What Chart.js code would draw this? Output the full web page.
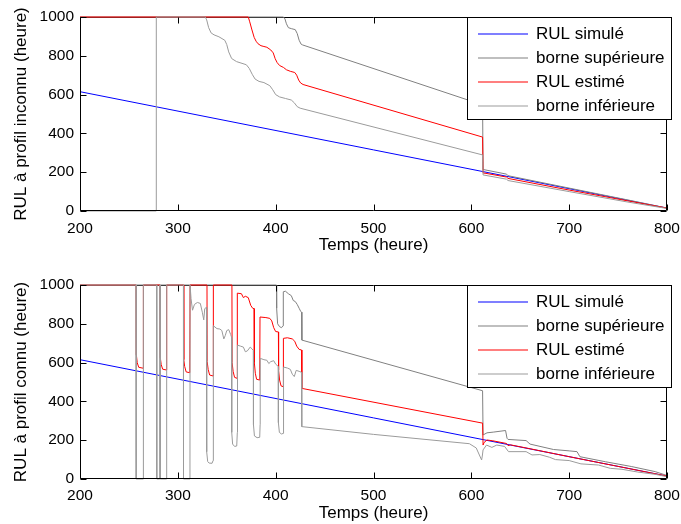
<!DOCTYPE html>
<html>
<head>
<meta charset="utf-8">
<script src="https://cdn.jsdelivr.net/npm/chart.js@4/dist/chart.umd.min.js"></script>
<style>
html,body{margin:0;padding:0;background:#fff;}
#wrap{position:relative;width:681px;height:524px;overflow:hidden;}
canvas{position:absolute;left:0;}
</style>
</head>
<body>
<div id="wrap">
<canvas id="c1" width="681" height="262" style="top:0px"></canvas>
<canvas id="c2" width="681" height="262" style="top:262px"></canvas>
</div>
<script>
// ---------- data (time in hours, RUL in hours) ----------
const seriesLabels = ['RUL simulé', 'borne supérieure', 'RUL estimé', 'borne inférieure'];
const xTickValues = [200, 300, 400, 500, 600, 700, 800];
const yTickValues = [0, 200, 400, 600, 800, 1000];

// Top chart: unknown profile
const topSimT = [200, 800];
const topSimV = [615, 15];

const topUpperT = [200, 408, 409.5, 411, 413, 416, 420, 422, 424, 426, 427.5, 611.5, 612, 636, 637.5, 700, 760, 800];
const topUpperV = [1000, 1000, 990, 965, 945, 940, 935, 915, 880, 860, 856, 547, 214, 190, 182, 118, 57, 15];

const topEstT = [200, 372, 373.5, 375.5, 378, 380, 382, 385, 388, 391, 395, 397.5, 399.5, 401.5, 404, 408, 411, 415, 419.5, 421.5, 423.5, 425.5, 428, 611.5, 612, 615, 636, 637.5, 700, 760, 800];
const topEstV = [1000, 1000, 975, 938, 895, 875, 862, 852, 848, 844, 830, 815, 785, 765, 750, 740, 728, 720, 714, 700, 675, 660, 652, 381, 196, 194, 175, 168, 108, 52, 15];

const topLowerT = [200, 277.8, 278, 328, 329.5, 331.5, 334, 337, 342, 348, 350, 352, 355, 360, 370, 373, 376, 379, 383, 388, 394, 397, 400, 404, 410, 416, 419, 422, 425, 611.5, 612, 636, 637.5, 700, 760, 800];
const topLowerV = [0, 0, 1000, 1000, 985, 945, 918, 908, 898, 880, 858, 820, 786, 770, 754, 735, 705, 680, 668, 662, 646, 625, 600, 588, 580, 572, 558, 538, 530, 289, 186, 164, 157, 100, 46, 13];

// Bottom chart: known profile
const botSimT = [200, 800];
const botSimV = [615, 15];

const botUpperT = [200, 400.8, 401, 402, 404, 406, 407.5, 407.8, 410, 413, 416, 418, 420, 422, 424, 425.5, 426.5, 426.8, 611.5, 612, 616, 623, 635, 636.5, 637.5, 656, 660, 684, 700, 708, 711, 737, 764, 788, 800];
const botUpperV = [1000, 1000, 880, 800, 785, 780, 790, 965, 968, 955, 945, 920, 915, 900, 880, 865, 860, 716, 455, 227, 238, 242, 250, 210, 204, 198, 180, 152, 145, 141, 115, 89, 64, 38, 18];

const botEstT = [200,
  257.4, 257.6, 258.5, 260, 264.5, 264.8,
  281.9, 282.1, 283, 284.5, 288.3, 288.6,
  305.9, 306.1, 307, 308.5, 312.2, 312.5,
  329.8, 330, 331, 332.5, 336, 336.3,
  355.3, 355.5, 356.5, 358, 360.5, 360.8,
  365, 367, 369, 372, 374.5, 376.5, 378,
  378.2, 379.2, 380.5, 383.7, 384,
  390, 394, 396, 398, 400, 402.8,
  403, 404, 405.5, 407.6, 407.9,
  412, 417, 419.5, 421.5, 424, 426.5,
  426.8, 611.5, 612, 613, 616, 622, 636, 637.5, 640, 660, 700, 760, 800];
const botEstV = [1000,
  1000, 640, 600, 576, 571, 1000,
  1000, 625, 590, 566, 562, 1000,
  1000, 615, 580, 552, 548, 1000,
  1000, 605, 565, 536, 531, 1000,
  1000, 600, 555, 524, 519, 958,
  955, 935, 942, 935, 895, 880, 878,
  600, 545, 514, 510, 835,
  832, 828, 815, 780, 760, 758,
  560, 510, 480, 476, 725,
  728, 722, 710, 685, 668, 665,
  467, 288, 175, 188, 201, 197, 183, 172, 176, 156, 115, 55, 15];

const botLowerT = [200,
  257.3, 257.4, 264.7, 264.8,
  278.4, 278.5, 281.5, 281.6, 281.9, 282, 288.5, 288.6,
  305.7, 305.8, 312.4, 312.5,
  313.5, 315, 317, 320, 323, 325, 326.5, 327.5, 329.3,
  329.5, 330.5, 332, 335, 336, 336.3,
  340, 343, 345, 347, 348.5, 350, 352, 354, 355,
  355.1, 356, 358, 360.2, 360.8, 361,
  364, 367, 369, 371, 374, 376, 377.2,
  377.3, 378.3, 381, 383.7, 384.1, 384.2,
  388, 391, 393, 395, 398, 400, 402.7,
  402.8, 403.8, 406, 407.7, 408, 408.1,
  412, 415, 417, 419, 421, 424, 426.5,
  426.7, 500, 598, 605, 610.5, 611.2, 612, 615.5, 621, 626, 634, 638, 656, 662, 670, 680, 686, 700, 712, 730, 742, 754, 770, 788, 800];
const botLowerV = [1000,
  1000, 0, 0, 1000,
  1000, 0, 0, 1000, 1000, 0, 0, 1000,
  1000, 0, 0, 1000,
  930, 870, 900, 910, 905, 860, 820, 878, 885,
  140, 90, 82, 81, 95, 790,
  775, 773, 765, 722, 740, 765, 770, 745, 730,
  240, 180, 168, 170, 240, 690,
  685, 680, 656, 660, 680, 670, 662,
  280, 222, 213, 215, 280, 622,
  615, 612, 595, 605, 610, 592, 580,
  290, 240, 232, 235, 300, 577,
  572, 565, 540, 528, 560, 555, 550,
  270, 230, 182, 160, 98, 118, 150, 175, 163, 175, 168, 141, 141, 124, 126, 112, 100, 95, 78, 72, 55, 50, 36, 24, 12];

// ---------- styling ----------
const FONT = '"Liberation Sans", Arial, Helvetica, sans-serif';
const seriesColors = ['#0000ff', '#808080', '#ff0000', '#9b9b9b'];

function pts(T, V) { return T.map((t, i) => ({ x: t, y: V[i] })); }

function edges(a) {
  return {
    L: Math.round(a.left) + 0.5, R: Math.round(a.right) - 0.5,
    T: Math.round(a.top) + 0.5, B: Math.round(a.bottom) - 0.5
  };
}

const framePlugin = {
  id: 'frameTicks',
  beforeDatasetsDraw(chart) {
    const { ctx, chartArea: a } = chart;
    const { L, R, T } = edges(a);
    ctx.save();
    ctx.strokeStyle = '#000';
    ctx.lineWidth = 1;
    ctx.beginPath();
    ctx.moveTo(L, T); ctx.lineTo(R, T);
    ctx.stroke();
    ctx.restore();
  },
  afterDatasetsDraw(chart) {
    const { ctx, chartArea: a, scales: { x, y } } = chart;
    const { L, R, T, B } = edges(a);
    ctx.save();
    ctx.strokeStyle = '#000';
    ctx.lineWidth = 1;
    ctx.beginPath();
    ctx.moveTo(L, T); ctx.lineTo(L, B); ctx.lineTo(R, B); ctx.lineTo(R, T);
    const tl = 6;
    xTickValues.forEach(v => {
      const px = Math.round(x.getPixelForValue(v)) + 0.5;
      ctx.moveTo(px, B); ctx.lineTo(px, B - tl);
      ctx.moveTo(px, T); ctx.lineTo(px, T + tl);
    });
    yTickValues.forEach(v => {
      const py = Math.round(y.getPixelForValue(v)) + 0.5;
      ctx.moveTo(L, py); ctx.lineTo(L + tl, py);
      ctx.moveTo(R, py); ctx.lineTo(R - tl, py);
    });
    ctx.stroke();
    ctx.restore();
  }
};

const legendPlugin = {
  id: 'boxLegend',
  afterDraw(chart) {
    const { ctx, chartArea: a } = chart;
    const r = Math.round(a.right);
    const left = r - 200 + 0.5;
    const top = Math.round(a.top) + 0.5;
    const w = 204, h = 102;
    ctx.save();
    ctx.fillStyle = '#ffffff';
    ctx.fillRect(left, top, w, h);
    ctx.strokeStyle = '#000000';
    ctx.lineWidth = 1;
    ctx.strokeRect(left, top, w, h);
    ctx.font = '17px ' + FONT;
    ctx.textBaseline = 'middle';
    ctx.textAlign = 'left';
    for (let i = 0; i < seriesLabels.length; i++) {
      const yy = Math.round(a.top) + 17 + 24 * i;
      ctx.beginPath();
      ctx.strokeStyle = seriesColors[i];
      ctx.lineWidth = 1.2;
      ctx.moveTo(r - 189, yy);
      ctx.lineTo(r - 139, yy);
      ctx.stroke();
      ctx.fillStyle = '#000000';
      ctx.fillText(seriesLabels[i], r - 131, yy);
    }
    ctx.restore();
  }
};

function makeChart(id, yTitle, series, cfg) {
  const datasets = series.map((s, i) => ({
    label: seriesLabels[i],
    data: pts(s[0], s[1]),
    borderColor: seriesColors[i],
    backgroundColor: seriesColors[i],
    borderWidth: 1,
    pointRadius: 0,
    pointHoverRadius: 0,
    tension: 0,
    fill: false,
    clip: false,
    borderJoinStyle: 'round',
    order: 4 - i
  }));
  return new Chart(document.getElementById(id), {
    type: 'line',
    data: { datasets },
    options: {
      responsive: false,
      animation: false,
      events: [],
      layout: { padding: { top: cfg.padTop, right: 14, left: 0, bottom: 0 } },
      plugins: { legend: { display: false }, tooltip: { enabled: false } },
      scales: {
        x: {
          type: 'linear', min: 200, max: 800,
          afterBuildTicks: s => { s.ticks = xTickValues.map(v => ({ value: v })); },
          ticks: { color: '#000', font: { family: FONT, size: 15.5 }, padding: cfg.xTickPad, maxRotation: 0, autoSkip: false, callback: v => String(v) },
          grid: { display: false, drawTicks: false },
          border: { display: false },
          title: { display: true, text: 'Temps (heure)', color: '#000', font: { family: FONT, size: 17 }, padding: { top: 0, bottom: cfg.xTitlePad } },
          afterFit: s => { s.height = cfg.xHeight; s.paddingLeft = 0; s.paddingRight = 0; }
        },
        y: {
          type: 'linear', min: 0, max: 1000,
          afterBuildTicks: s => { s.ticks = yTickValues.map(v => ({ value: v })); },
          ticks: { color: '#000', font: { family: FONT, size: 15.5 }, padding: 6, autoSkip: false, callback: v => String(v) },
          grid: { display: false, drawTicks: false },
          border: { display: false },
          title: { display: true, text: yTitle, color: '#000', font: { family: FONT, size: 17 }, padding: { top: 11, bottom: 0 } },
          afterFit: s => { s.width = 80; s.paddingTop = 0; s.paddingBottom = 0; }
        }
      }
    },
    plugins: [framePlugin, legendPlugin]
  });
}

makeChart('c1', 'RUL à profil inconnu (heure)',
  [[topSimT, topSimV], [topUpperT, topUpperV], [topEstT, topEstV], [topLowerT, topLowerV]],
  { padTop: 17, xHeight: 51, xTitlePad: 6, xTickPad: 8 });

makeChart('c2', 'RUL à profil connu (heure)',
  [[botSimT, botSimV], [botUpperT, botUpperV], [botEstT, botEstV], [botLowerT, botLowerV]],
  { padTop: 23, xHeight: 45, xTitlePad: 0, xTickPad: 7 });
</script>
</body>
</html>
